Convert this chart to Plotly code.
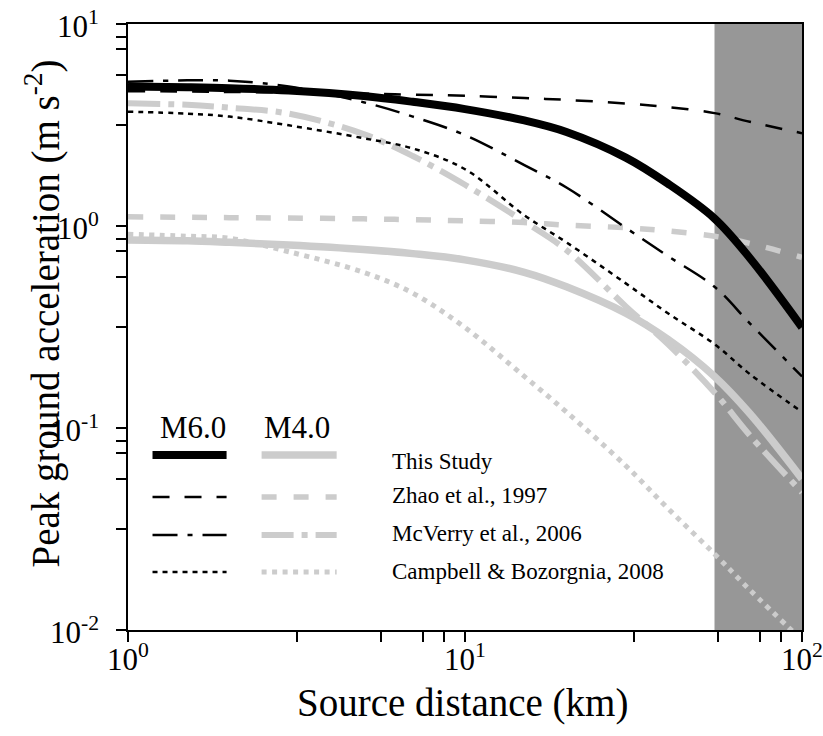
import math
import plotly.graph_objects as go

# ---------------- data ----------------
dist = [1, 1.5, 2, 3, 5, 7, 10, 15, 20, 30, 40, 55, 70, 100]

this_m6 = [4.90, 4.86, 4.81, 4.68, 4.40, 4.12, 3.79, 3.33, 2.92, 2.18, 1.62, 1.09, 0.695, 0.315]
zhao_m6 = [4.65, 4.63, 4.61, 4.58, 4.52, 4.47, 4.41, 4.30, 4.21, 4.04, 3.88, 3.62, 3.28, 2.88]
mcverry_m6 = [5.17, 5.26, 5.24, 4.90, 4.10, 3.48, 2.82, 2.00, 1.55, 0.98, 0.71, 0.50, 0.33, 0.18]
campbell_m6 = [3.68, 3.60, 3.48, 3.15, 2.72, 2.42, 1.91, 1.13, 0.83, 0.52, 0.37, 0.26, 0.185, 0.12]

this_m4 = [0.853, 0.845, 0.83, 0.805, 0.765, 0.73, 0.68, 0.59, 0.50, 0.37, 0.275, 0.18, 0.118, 0.056]
zhao_m4 = [1.11, 1.105, 1.10, 1.095, 1.085, 1.075, 1.06, 1.04, 1.01, 0.98, 0.945, 0.89, 0.82, 0.70]
mcverry_m4 = [4.05, 3.98, 3.85, 3.60, 2.85, 2.22, 1.60, 1.05, 0.76, 0.40, 0.26, 0.150, 0.092, 0.048]
campbell_m4 = [0.91, 0.89, 0.87, 0.746, 0.59, 0.465, 0.314, 0.18, 0.12, 0.065, 0.040, 0.0238, 0.0158, 0.0089]

shade_range = [55, 100]

legend_rows = ["This Study", "Zhao et al., 1997", "McVerry et al., 2006", "Campbell & Bozorgnia, 2008"]
legend_heads = ["M6.0", "M4.0"]

x_major = [1, 10, 100]
x_major_text = ["10<sup>0</sup>", "10<sup>1</sup>", "10<sup>2</sup>"]
y_major = [0.01, 0.1, 1, 10]
y_major_text = ["10<sup>-2</sup>", "10<sup>-1</sup>", "10<sup>0</sup>", "10<sup>1</sup>"]
minor_frac = [0.5, 0.75, 0.875, 0.9375]

x_title = "Source distance (km)"
y_title = "Peak ground acceleration (m s<sup>-2</sup>)"

# ---------------- styles ----------------
GRAY = "#cccccc"
SHADE = "#979797"
FONT = "Liberation Serif"

styles_m4 = [
    (this_m4, dict(color=GRAY, width=7.5, dash="solid")),
    (zhao_m4, dict(color=GRAY, width=5.5, dash="15px,17px")),
    (mcverry_m4, dict(color=GRAY, width=6, dash="32px,8px,6px,8px")),
    (campbell_m4, dict(color=GRAY, width=5, dash="5px,5.5px")),
]
styles_m6 = [
    (zhao_m6, dict(color="black", width=2.5, dash="17px,15px")),
    (mcverry_m6, dict(color="black", width=2.5, dash="25px,10px,5px,10px")),
    (campbell_m6, dict(color="black", width=2.5, dash="5px,5px")),
    (this_m6, dict(color="black", width=8, dash="solid")),
]

fig = go.Figure()
for vals, ln in styles_m4 + styles_m6:
    fig.add_trace(go.Scatter(x=dist, y=vals, mode="lines", line=dict(shape="spline", smoothing=1, **ln),
                             showlegend=False, hoverinfo="skip"))

# shaded region
fig.add_shape(type="rect", xref="x", yref="paper", x0=shade_range[0], x1=shade_range[1], y0=0, y1=1,
              fillcolor=SHADE, line=dict(width=0), layer="below")

# ---------------- custom legend (paper coords) ----------------
L, R, T, B = 128.5, 802, 24, 630
def px(xp):
    return (xp - L) / (R - L)
def py(yp):
    return (B - yp) / (B - T)

row_y = [455, 497, 535, 572]
text_y = [461, 495, 533, 571]
leg_m6 = [s[1] for s in [styles_m6[3], styles_m6[0], styles_m6[1], styles_m6[2]]]
leg_m4 = [s[1] for s in styles_m4]
for i in range(4):
    a = dict(leg_m6[i]); b = dict(leg_m4[i])
    fig.add_shape(type="line", xref="paper", yref="paper", x0=px(153), x1=px(227), y0=py(row_y[i]), y1=py(row_y[i]),
                  line=dict(color=a["color"], width=a["width"], dash=a["dash"]))
    fig.add_shape(type="line", xref="paper", yref="paper", x0=px(262), x1=px(337), y0=py(row_y[i]), y1=py(row_y[i]),
                  line=dict(color=b["color"], width=b["width"], dash=b["dash"]))
    fig.add_annotation(xref="paper", yref="paper", x=px(390), y=py(text_y[i]), text=legend_rows[i],
                       showarrow=False, xanchor="left", yanchor="middle",
                       font=dict(family=FONT, size=23, color="black"))
for head, cx in zip(legend_heads, [193, 297]):
    fig.add_annotation(xref="paper", yref="paper", x=px(cx), y=py(427), text=head, showarrow=False,
                       xanchor="center", yanchor="middle", font=dict(family=FONT, size=31, color="black"))

# axis titles as annotations
fig.add_annotation(xref="paper", yref="paper", x=px(463), y=py(703), text=x_title, showarrow=False,
                   xanchor="center", yanchor="middle", font=dict(family=FONT, size=39, color="black"))
fig.add_annotation(xref="paper", yref="paper", x=px(43), y=py(313), text=y_title, showarrow=False,
                   textangle=-90, xanchor="center", yanchor="middle",
                   font=dict(family=FONT, size=39, color="black"))

# major tick labels (serif) placed at the axis values
for v, t in zip(x_major, x_major_text):
    fig.add_annotation(xref="x", yref="paper", x=math.log10(v), y=py(658), text=t, showarrow=False,
                       xanchor="center", yanchor="middle", font=dict(family=FONT, size=31, color="black"))
for v, t in zip(y_major, y_major_text):
    fig.add_annotation(xref="paper", yref="y", x=px(102), y=math.log10(v), text=t, showarrow=False,
                       xanchor="right", yanchor="middle", font=dict(family=FONT, size=31, color="black"))

# ---------------- axes ----------------
def minor_vals(decades):
    out = []
    for d in decades:
        for f in minor_frac:
            out.append(10 ** (d + f))
    return out

xt = x_major + minor_vals([0, 1])
yt = y_major + minor_vals([-2, -1, 0])

axis_common = dict(showline=True, linecolor="black", linewidth=2, mirror=True, ticks="outside",
                   ticklen=10, tickwidth=2, tickcolor="black", showgrid=False, zeroline=False,
                   showticklabels=False)

fig.update_xaxes(type="log", range=[0, 2], tickmode="array", tickvals=xt, **axis_common)
fig.update_yaxes(type="log", range=[-2, 1], tickmode="array", tickvals=yt, **axis_common)

fig.update_layout(width=823, height=736, margin=dict(l=128, r=21, t=24, b=106, autoexpand=False),
                  paper_bgcolor="white", plot_bgcolor="white", showlegend=False,
                  font=dict(family=FONT, color="black"))

fig.write_html("out.html")
